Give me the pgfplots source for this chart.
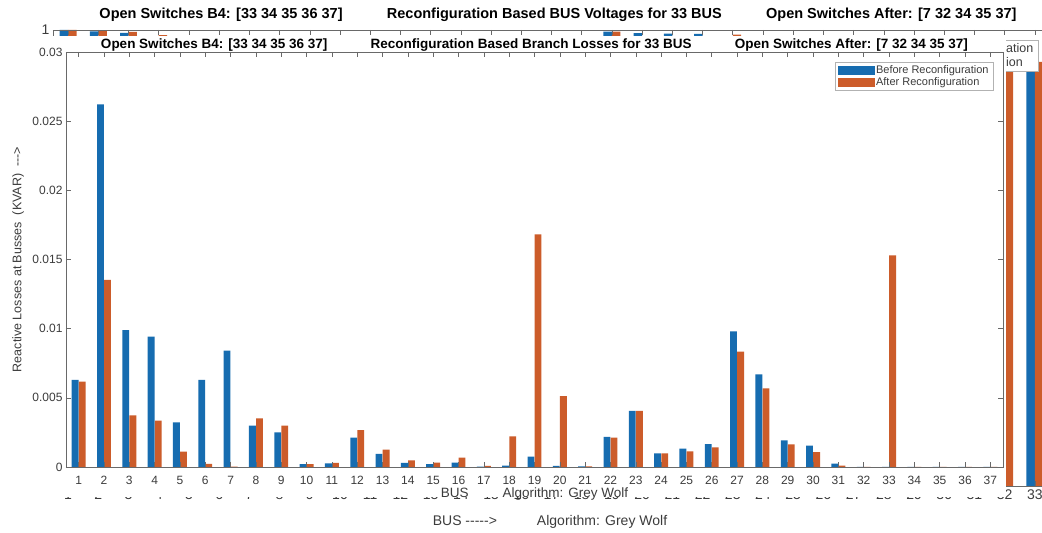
\documentclass[border=0pt]{standalone}
\usepackage{pgfplots}
\pgfplotsset{compat=1.18}
\usepackage{pgfplotstable}
\usepackage{fontspec}
\setmainfont{Liberation Sans}
\definecolor{cBlue}{RGB}{22,108,176}
\definecolor{cOrange}{RGB}{204,92,42}
\definecolor{axgray}{RGB}{105,105,105}
\definecolor{txtgray}{RGB}{60,60,60}

% Background figure: bus voltages (mostly hidden)
\pgfplotstableread{
bus before after
1 1.0000 1.0000
2 0.9970 0.9980
3 0.9935 0.9957
4 0.9800 0.9890
5 0.9700 0.9868
6 0.9497 0.9800
7 0.9462 0.9750
8 0.9413 0.9600
9 0.9351 0.9650
10 0.9292 0.9600
11 0.9284 0.9610
12 0.9269 0.9600
13 0.9208 0.9560
14 0.9185 0.9550
15 0.9171 0.9530
16 0.9157 0.9520
17 0.9137 0.9500
18 0.9131 0.9490
19 0.9965 0.9965
20 0.9929 0.9850
21 0.9922 0.9830
22 0.9916 0.9820
23 0.9794 0.9900
24 0.9727 0.9800
25 0.9694 0.9750
26 0.9477 0.9770
27 0.9452 0.9740
28 0.9337 0.9650
29 0.9255 0.9600
30 0.9220 0.9560
31 0.9178 0.9520
32 0.9169 0.9510
33 0.9166 0.9300
}\voltdata

% Front figure: reactive losses
\pgfplotstableread{
bus before after
1 0.00629 0.00617
2 0.02622 0.01352
3 0.00990 0.00374
4 0.00942 0.00335
5 0.00323 0.00111
6 0.00629 0.00022
7 0.00841 0.00003
8 0.00299 0.00352
9 0.00251 0.00299
10 0.00020 0.00020
11 0.00027 0.00030
12 0.00212 0.00267
13 0.00094 0.00125
14 0.00029 0.00048
15 0.00020 0.00031
16 0.00031 0.00067
17 0.00002 0.00008
18 0.00010 0.00222
19 0.00075 0.01682
20 0.00008 0.00513
21 0.00005 0.00005
22 0.00217 0.00212
23 0.00405 0.00405
24 0.00099 0.00099
25 0.00133 0.00113
26 0.00166 0.00142
27 0.00981 0.00834
28 0.00670 0.00569
29 0.00193 0.00164
30 0.00154 0.00108
31 0.00024 0.00010
32 0 0
33 0 0.01530
34 0 0
35 0 0
36 0 0
37 0 0
}\lossdata

\begin{document}
\begin{tikzpicture}[x=1pt,y=1pt]
\useasboundingbox (0,0) rectangle (1042,533);
% ---------------- background figure ----------------
\begin{axis}[
  at={(53pt,47pt)}, anchor=south west, scale only axis,
  width=997pt, height=456pt,
  xmin=0.5, xmax=33.5, ymin=0, ymax=1,
  xtick={1,...,33}, ytick={1}, yticklabels={1},
  axis on top, axis line style={draw=axgray, line width=0.6pt},
  major tick length=5pt, tick style={draw=axgray, line width=0.6pt},
  /pgf/number format/assume math mode=true,
  ticklabel style={font=\fontsize{14}{16}\selectfont, text=txtgray},
  xticklabel style={yshift=0pt},
  title={\makebox[917pt]{\textbf{Open Switches B4: [33 34 35 36 37]}\hfill\textbf{Reconfiguration Based BUS Voltages for 33 BUS}\hfill\textbf{Open Switches After: [7 32 34 35 37]}}},
  title style={at={(axis description cs:0.5,1)}, anchor=center, yshift=9pt, xshift=6.5pt, font=\fontsize{14.5}{16}\selectfont},
  xlabel={BUS -{}-{}-{}-{}->\hspace{40pt}Algorithm: Grey Wolf},
  xlabel style={at={(axis description cs:0.5,0)}, anchor=center, yshift=-36pt, xshift=-1.5pt, font=\fontsize{14}{16}\selectfont, text=txtgray},
  legend style={at={(1,1)}, anchor=north east, xshift=-12pt, yshift=-10pt, draw=gray!60,
    font=\fontsize{12.5}{13}\selectfont, text=txtgray, nodes={inner sep=1.5pt}},
  legend cell align=left,
]
\addplot[ybar, bar width=0.28, bar shift=-0.14, fill=cBlue, draw=none,
  legend image code/.code={\fill[cBlue] (0pt,-5pt) rectangle (42pt,5pt);}]
  table[x=bus, y=before] {\voltdata};
\addlegendentry{Before Reconfiguration}
\addplot[ybar, bar width=0.28, bar shift=0.14, fill=cOrange, draw=none,
  legend image code/.code={\fill[cOrange] (0pt,-5pt) rectangle (42pt,5pt);}]
  table[x=bus, y=after] {\voltdata};
\addlegendentry{After Reconfiguration}
\end{axis}
% front figure window
\fill[white] (0pt,36pt) rectangle (1006pt,497pt);
% ---------------- front figure ----------------
\begin{axis}[
  at={(66pt,66pt)}, anchor=south west, scale only axis,
  width=937pt, height=415pt,
  xmin=0.5, xmax=37.5, ymin=0, ymax=0.03,
  xtick={1,...,37},
  ytick={0,0.005,0.01,0.015,0.02,0.025,0.03},
  yticklabels={0,0.005,0.01,0.015,0.02,0.025,0.03},
  scaled y ticks=false,
  axis on top, axis line style={draw=axgray, line width=0.6pt},
  major tick length=5pt, tick style={draw=axgray, line width=0.6pt},
  /pgf/number format/assume math mode=true,
  ticklabel style={font=\fontsize{12}{14}\selectfont, text=txtgray},
  xticklabel style={yshift=-6pt},
  title={\makebox[867pt]{\textbf{Open Switches B4: [33 34 35 36 37]}\hfill\textbf{Reconfiguration Based Branch Losses for 33 BUS}\hfill\textbf{Open Switches After: [7 32 34 35 37]}}},
  title style={at={(axis description cs:0.5,1)}, anchor=center, yshift=1pt, font=\fontsize{13.5}{15}\selectfont},
  xlabel={BUS\hspace{34pt}Algorithm: Grey Wolf},
  xlabel style={at={(axis description cs:0.5,-0.066)}, anchor=center, font=\fontsize{13.5}{15}\selectfont, text=txtgray},
  ylabel={Reactive Losses at Busses\ \ (KVAR)\ \ -{}-{}->},
  ylabel style={at={(axis description cs:-0.0512,0.5)}, anchor=center, font=\fontsize{12.5}{14}\selectfont, text=txtgray},
  legend style={at={(1,1)}, anchor=north east, xshift=-10pt, yshift=-10pt, draw=gray!60,
    font=\fontsize{11}{11}\selectfont, text=txtgray, nodes={inner sep=1.2pt}},
  legend cell align=left,
]
\addplot[ybar, bar width=0.27, bar shift=-0.14, fill=cBlue, draw=none,
  legend image code/.code={\fill[cBlue] (0pt,-4.5pt) rectangle (37pt,4.5pt);}]
  table[x=bus, y=before] {\lossdata};
\addlegendentry{Before Reconfiguration}
\addplot[ybar, bar width=0.27, bar shift=0.14, fill=cOrange, draw=none,
  legend image code/.code={\fill[cOrange] (0pt,-4.5pt) rectangle (37pt,4.5pt);}]
  table[x=bus, y=after] {\lossdata};
\addlegendentry{After Reconfiguration}
\end{axis}
\end{tikzpicture}
\end{document}
